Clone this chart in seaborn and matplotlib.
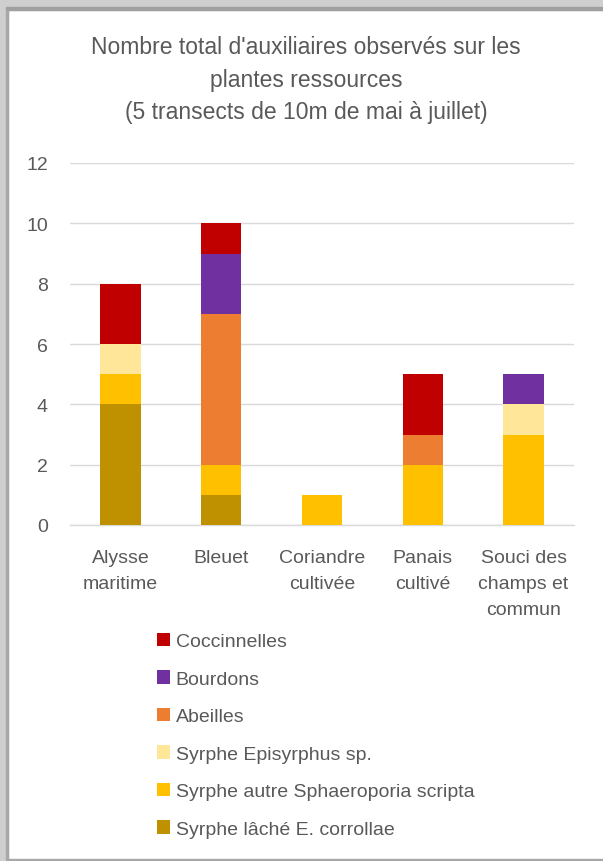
import matplotlib
matplotlib.use("Agg")
import matplotlib.pyplot as plt
from matplotlib.patches import Patch, Rectangle
import pandas as pd
import seaborn as sns

# data
plantes = ["Alysse\nmaritime", "Bleuet", "Coriandre\ncultivée", "Panais\ncultivé",
           "Souci des\nchamps et\ncommun"]
series = ["Syrphe lâché E. corrollae", "Syrphe autre Sphaeroporia scripta",
          "Syrphe Episyrphus sp.", "Abeilles", "Bourdons", "Coccinnelles"]
lache = [4, 1, 0, 0, 0]
autre = [1, 1, 1, 2, 3]
episyrphus = [1, 0, 0, 0, 1]
abeilles = [0, 5, 0, 1, 0]
bourdons = [0, 2, 0, 0, 1]
coccinelles = [2, 1, 0, 2, 0]
colors = ["#BF9000", "#FFC000", "#FFE699", "#ED7D31", "#7030A0", "#C00000"]

df = pd.DataFrame({"plante": plantes, series[0]: lache, series[1]: autre,
                   series[2]: episyrphus, series[3]: abeilles,
                   series[4]: bourdons, series[5]: coccinelles})

sns.set_theme(style="white")
plt.rcParams["font.family"] = ["Liberation Sans", "DejaVu Sans"]
txt = "#595959"

fig = plt.figure(figsize=(6.03, 8.62), dpi=100)
ax = fig.add_axes([70 / 603, 1 - 526 / 862, 504 / 603, 362 / 862])

# stacked bars: draw cumulative totals from the top layer down
cum = df[series].cumsum(axis=1)
for name, col in reversed(list(zip(series, colors))):
    sns.barplot(x=df["plante"], y=cum[name], color=col, saturation=1,
                width=0.4, linewidth=0, ax=ax, zorder=3)

ax.set_xlim(-0.5, 4.5)
ax.set_ylim(0, 12)
ax.set_yticks(range(0, 13, 2))
ax.set_xlabel("")
ax.set_ylabel("")
ax.yaxis.grid(True, color="#D9D9D9", linewidth=1.0, zorder=0)
ax.set_axisbelow(True)
for s in ["top", "right", "left"]:
    ax.spines[s].set_visible(False)
ax.spines["bottom"].set_color("#D9D9D9")
ax.spines["bottom"].set_linewidth(1.0)
ax.tick_params(axis="x", length=0, pad=17, labelsize=14, labelcolor=txt)
ax.tick_params(axis="y", length=0, pad=16, labelsize=14, labelcolor=txt)
for t in ax.get_xticklabels():
    t.set_linespacing(1.72)

fig.text(306 / 603, 1 - 80 / 862,
         "Nombre total d'auxiliaires observés sur les\nplantes ressources\n"
         "(5 transects de 10m de mai à juillet)",
         ha="center", va="center", fontsize=16.5, color=txt, linespacing=1.53)

handles = [Patch(facecolor=c, edgecolor="none", label=n)
           for n, c in zip(series, colors)][::-1]
fig.legend(handles=handles, loc="upper left",
           bbox_to_anchor=(157 / 603, 1 - 634 / 862), frameon=False,
           fontsize=14, labelcolor=txt, handlelength=0.67, handleheight=0.67,
           handletextpad=0.3, labelspacing=1.03, borderpad=0, borderaxespad=0)

# frame / shadow of the original screenshot
W, H = 603, 862
fig.patches.append(Rectangle((0, 0), 8 / W, 1, transform=fig.transFigure,
                             color="#CFCFCF", zorder=0))
fig.patches.append(Rectangle((6 / W, 0), 2 / W, 1 - 9 / H, transform=fig.transFigure,
                             color="#A8A8A8", zorder=0))
fig.patches.append(Rectangle((0, 1 - 11 / H), 1, 11 / H, transform=fig.transFigure,
                             color="#CFCFCF", zorder=0))
fig.patches.append(Rectangle((6 / W, 1 - 11 / H), 1, 3 / H, transform=fig.transFigure,
                             color="#A0A0A0", zorder=0))
fig.patches.append(Rectangle((8 / W, 0), 1, 2 / H, transform=fig.transFigure,
                             color="#A8A8A8", zorder=0))

fig.savefig("out.png", dpi=100)
